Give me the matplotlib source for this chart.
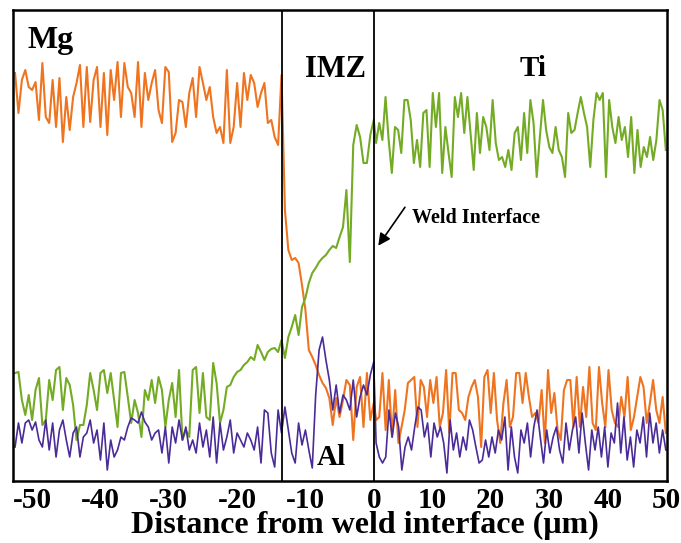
import numpy as np
import matplotlib
matplotlib.use('Agg')
from matplotlib import pyplot as plt

# intensity (a.u.), 0.5 um steps on the Mg side / IMZ
mg_side_x = np.arange(-52.5, -13.4, 0.5)   # 79 points, -52.5 .. -13.5
imz_x = np.arange(-13.0, 0.01, 0.5)        # 27 points, -13.0 .. 0.0

mg_mgside = [408, 368, 401, 411, 394, 391, 399, 361, 418, 364,
             358, 401, 354, 403, 339, 384, 351, 384, 398, 416,
             354, 414, 359, 401, 414, 354, 408, 346, 411, 381,
             419, 364, 418, 394, 388, 364, 419, 354, 408, 381,
             398, 411, 371, 358, 414, 409, 339, 348, 381, 379,
             354, 388, 403, 364, 414, 398, 381, 394, 364, 348,
             354, 338, 411, 338, 354, 398, 354, 408, 381, 406,
             398, 374, 388, 398, 358, 361, 344, 336, 406]
mg_imz = [271, 231, 221, 223, 218, 196, 171, 131, 124, 116,
          106, 98, 93, 83, 56, 83, 64, 81, 101, 96,
          41, 94, 104, 54, 108, 61, 78]
mg_tiside = [61, 64, 108, 51, 101, 44, 91, 38, 54, 71,
             98, 101, 104, 54, 101, 94, 64, 101, 78, 104,
             54, 68, 111, 48, 108, 108, 71, 68, 61, 84,
             94, 101, 84, 34, 104, 111, 68, 108, 61, 38,
             78, 101, 54, 64, 108, 108, 78, 108, 84, 64,
             68, 58, 91, 38, 111, 68, 88, 51, 41, 91,
             101, 101, 54, 104, 54, 94, 64, 114, 58, 51,
             114, 78, 54, 111, 71, 58, 54, 84, 64, 104,
             51, 64, 84, 104, 94, 58, 78, 101, 71, 58,
             84, 48]

ti_mgside = [108, 109, 81, 66, 86, 61, 91, 103, 56, 61,
             101, 81, 111, 114, 71, 103, 96, 76, 41, 56,
             56, 76, 108, 91, 71, 108, 111, 88, 108, 81,
             54, 108, 109, 84, 58, 81, 68, 44, 91, 81,
             101, 78, 104, 91, 54, 81, 98, 64, 111, 41,
             51, 44, 111, 114, 68, 108, 64, 61, 118, 98,
             58, 71, 94, 96, 104, 109, 111, 116, 119, 124,
             121, 136, 129, 121, 129, 132, 133, 129, 141]
ti_imz = [123, 144, 154, 166, 146, 174, 183, 198, 208, 213,
          219, 223, 226, 231, 235, 233, 244, 254, 291, 219,
          336, 356, 344, 318, 318, 346, 361]
ti_tiside = [338, 358, 341, 384, 341, 308, 354, 351, 328, 381,
             381, 361, 318, 341, 314, 368, 371, 314, 388, 354,
             388, 308, 354, 328, 304, 384, 364, 388, 348, 384,
             348, 311, 368, 328, 364, 354, 331, 381, 338, 321,
             324, 314, 331, 311, 348, 354, 321, 368, 328, 381,
             358, 304, 344, 381, 351, 334, 328, 354, 331, 324,
             304, 368, 348, 351, 368, 384, 368, 354, 314, 361,
             388, 381, 388, 304, 381, 354, 338, 364, 341, 354,
             324, 364, 308, 351, 314, 334, 324, 344, 321, 341,
             381, 371, 331]

al_mgside = [34, 58, 38, 58, 61, 51, 59, 41, 34, 61,
             31, 58, 24, 51, 61, 41, 24, 48, 54, 24,
             44, 48, 61, 38, 51, 21, 58, 11, 41, 24,
             31, 44, 41, 54, 63, 61, 58, 69, 59, 54,
             41, 48, 51, 28, 54, 18, 54, 38, 61, 41,
             54, 31, 41, 28, 58, 34, 51, 24, 64, 18,
             58, 31, 44, 61, 28, 48, 41, 34, 48, 41,
             31, 54, 18, 71, 68, 28, 14, 71, 48]
al_imz = [74, 51, 28, 18, 58, 36, 51, 31, 13, 86,
          131, 144, 121, 101, 71, 96, 68, 86, 81, 71,
          101, 64, 84, 96, 86, 106, 119]
al_tiside = [38, 24, 18, 24, 71, 44, 68, 54, 11, 34,
             44, 31, 54, 74, 71, 44, 58, 24, 58, 44,
             54, 38, 8, 61, 31, 48, 24, 44, 31, 61,
             51, 34, 18, 21, 41, 24, 44, 28, 51, 41,
             64, 11, 54, 24, 8, 51, 38, 58, 24, 54,
             71, 44, 18, 51, 28, 44, 54, 31, 18, 58,
             31, 51, 64, 28, 68, 38, 11, 51, 31, 54,
             24, 54, 14, 48, 38, 78, 28, 64, 21, 44,
             14, 51, 38, 64, 24, 68, 38, 58, 28, 51,
             31]

imz_edge = -13.45
tick_pos = [-50, -40, -30, -20, -10, 0, 10, 20, 30, 40, 50]
tick_labels = ['-50', '-40', '-30', '-20', '-10', '0', '10', '20', '30', '40', '50']


def full_series(left, imz, right):
    xr = np.linspace(0.4, 49.9, len(right))
    x = np.concatenate([mg_side_x, imz_x, xr])
    y = np.concatenate([left, imz, right])
    return x, y


plt.rcParams['font.family'] = ['Liberation Serif', 'DejaVu Serif']
plt.rcParams['font.weight'] = 'bold'

fig = plt.figure(figsize=(6.81, 5.43), dpi=100)
ax = fig.add_axes([13 / 681, 1 - 481 / 543, 654 / 681, 471 / 543])

# the original axis is stretched on the negative side
k = 6.84 / 5.86
ax.set_xscale('function', functions=(lambda v: np.where(v < 0, v * k, v),
                                     lambda v: np.where(v < 0, v / k, v)))

x, y = full_series(mg_mgside, mg_imz, mg_tiside)
ax.plot(x, y, color='#ef7420', lw=1.5)
x, y = full_series(ti_mgside, ti_imz, ti_tiside)
ax.plot(x, y, color='#74ab24', lw=1.5)
x, y = full_series(al_mgside, al_imz, al_tiside)
ax.plot(x, y, color='#4a2b98', lw=1.2)

ax.axvline(imz_edge, color='black', lw=1.3)
ax.axvline(0, color='black', lw=1.3)

ax.set_xlim(-52.8, 50.1)
ax.set_ylim(0, 471)
ax.set_yticks([])
ax.set_xticks(tick_pos)
ax.set_xticklabels(tick_labels, fontsize=21, fontweight='bold')
ax.tick_params(axis='x', length=0, pad=4)
for s in ax.spines.values():
    s.set_linewidth(1.8)

ax.set_xlabel('Distance from weld interface (\u03bcm)', fontsize=23,
              fontweight='bold', labelpad=-2)
ax.xaxis.label.set_x((365 - 13) / 654)

ax.text(-50.7, 433, 'Mg', fontsize=23, fontweight='bold')
ax.text(-10.1, 404, 'IMZ', fontsize=22, fontweight='bold')
ax.text(24.9, 405, 'Ti', fontsize=21, fontweight='bold')
ax.text(-8.3, 16, 'Al', fontsize=21, fontweight='bold')
ax.text(6.5, 258, 'Weld Interface', fontsize=14.5, fontweight='bold')
ax.annotate('', xy=(0.5, 233), xytext=(5.6, 276),
            arrowprops=dict(arrowstyle='-|>', color='black', lw=1.2,
                            mutation_scale=18))

fig.savefig('out.png', dpi=100)
